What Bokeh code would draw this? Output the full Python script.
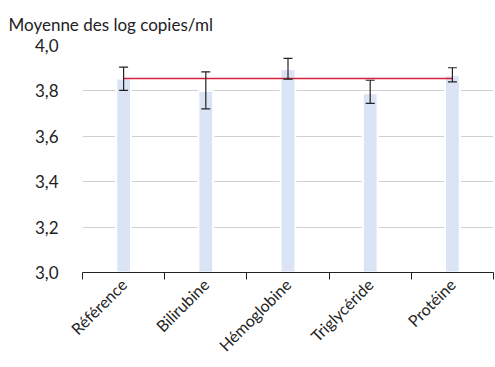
import math
from bokeh.plotting import figure
from bokeh.models import FixedTicker, Whisker, ColumnDataSource, TeeHead
from bokeh.embed import file_html
from bokeh.resources import INLINE

# Mean log copies/ml per interfering substance, with error-bar bounds
categories = ["Référence", "Bilirubine", "Hémoglobine", "Triglycéride", "Protéine"]
means = [3.855, 3.80, 3.897, 3.79, 3.869]
upper = [3.905, 3.884, 3.943, 3.847, 3.902]
lower = [3.802, 3.721, 3.852, 3.745, 3.840]
y_ticks = [3.0, 3.2, 3.4, 3.6, 3.8, 4.0]
y_tick_labels = ["3,0", "3,2", "3,4", "3,6", "3,8", "4,0"]

FONT = "Lato"
xs = [i + 0.5 for i in range(len(categories))]

src = ColumnDataSource(dict(x=xs, top=means, upper=upper, lower=lower))

p = figure(width=495, height=367, output_backend="svg", toolbar_location=None,
           x_range=(0, len(categories)), y_range=(3.0, 4.0),
           min_border_left=82, min_border_right=2, min_border_top=30,
           min_border_bottom=95)
p.outline_line_color = None
p.background_fill_color = "white"

# Title, placed top-left
p.title.text = "Moyenne des log copies/ml"
p.title.text_font = FONT
p.title.text_font_size = "17px"
p.title.text_font_style = "normal"
p.title.text_color = "#222222"
p.title.align = "left"
p.title.offset = -74
p.title.standoff = 22

# Bars
p.vbar(x="x", top="top", bottom=3.0, width=0.18, source=src,
       fill_color="#dbe4f5", line_color="white", line_width=2)

# Reference level line across all categories
p.line(x=[xs[0], xs[-1]], y=[means[0], means[0]], line_color="#d8203c", line_width=1.5)

# Error bars
w = Whisker(base="x", upper="upper", lower="lower", source=src, level="overlay",
            line_color="#222222", line_width=1.2,
            upper_head=TeeHead(size=9, line_color="#222222", line_width=1.2),
            lower_head=TeeHead(size=9, line_color="#222222", line_width=1.2))
p.add_layout(w)

# X axis: labels at category centres, ticks at category boundaries
p.xaxis.ticker = FixedTicker(ticks=xs, minor_ticks=list(range(len(categories) + 1)))
p.xaxis.major_label_overrides = {x: c for x, c in zip(xs, categories)}
p.xaxis.major_label_orientation = math.pi / 4
p.xaxis.major_tick_out = 0
p.xaxis.major_tick_in = 0
p.xaxis.minor_tick_out = 7
p.xaxis.minor_tick_in = 0
p.xaxis.minor_tick_line_color = "#222222"
p.xaxis.axis_line_color = "#222222"
p.xaxis.axis_line_width = 1.2
p.xaxis.major_label_text_font = FONT
p.xaxis.major_label_text_font_size = "16px"
p.xaxis.major_label_text_color = "#222222"
p.xaxis.major_label_standoff = 2

p.xgrid.visible = False

# Y axis: labels only, with decimal commas
p.yaxis.ticker = FixedTicker(ticks=y_ticks)
p.yaxis.major_label_overrides = {t: l for t, l in zip(y_ticks, y_tick_labels)}
p.yaxis.axis_line_color = None
p.yaxis.major_tick_line_color = None
p.yaxis.minor_tick_line_color = None
p.yaxis.major_label_text_font = FONT
p.yaxis.major_label_text_font_size = "17px"
p.yaxis.major_label_text_color = "#222222"
p.yaxis.major_label_standoff = 18
p.ygrid.ticker = FixedTicker(ticks=y_ticks[1:])
p.ygrid.grid_line_color = "#d0d0d0"
p.ygrid.grid_line_width = 1

open("out.html", "w").write(file_html(p, INLINE))
